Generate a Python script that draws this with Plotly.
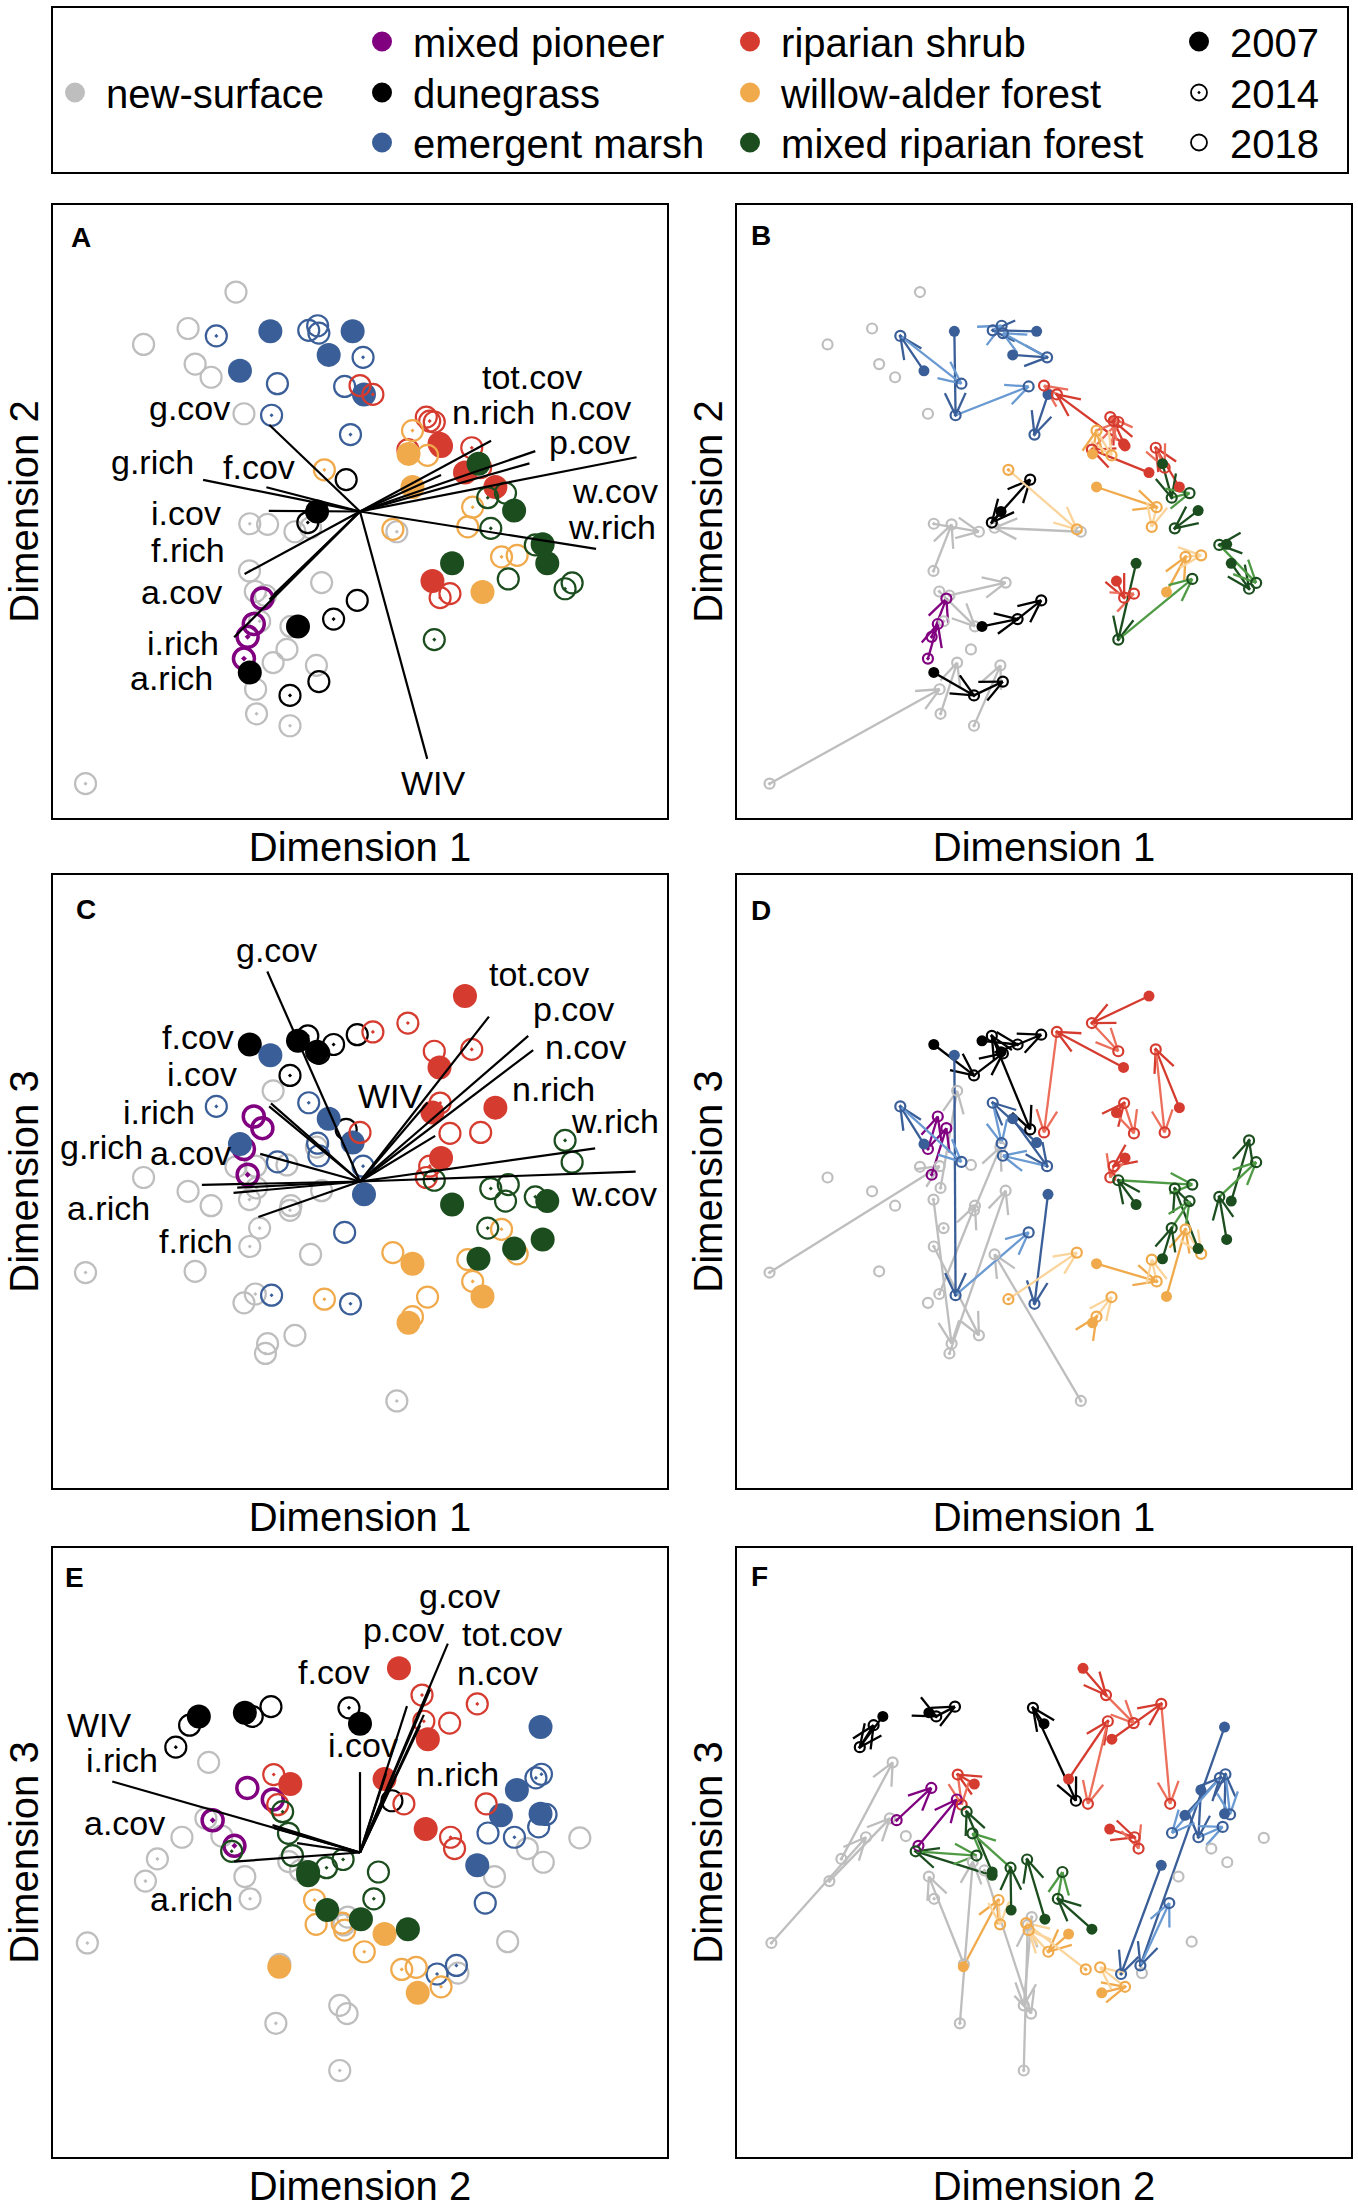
import math
import plotly.graph_objects as go

FIG_W, FIG_H = 1358, 2211
FONT = "Liberation Sans, Arial, Helvetica, sans-serif"

# ---------------- data ----------------
communities = ["ns", "mp", "dg", "em", "rs", "wa", "mr"]
community_names = ["new-surface", "mixed pioneer", "dunegrass", "emergent marsh",
                   "riparian shrub", "willow-alder forest", "mixed riparian forest"]
years = [2007, 2014, 2018]

obs_site = ["N1", "N1", "N2", "N3", "N4", "N5", "N6", "N7", "N8", "N8", "N9", "N9",
            "N10", "N10", "N11", "N11", "N12", "N12", "N13", "N13", "N14", "N14", "N15", "N16",
            "P1", "P1", "P2", "P2",
            "G1", "G1", "G1", "G2", "G2", "G2", "G3", "G3", "G3",
            "M1", "M1", "M1", "M2", "M2", "M2", "M3", "M3", "M3", "M4", "M4", "M4", "M5", "M5",
            "R1", "R1", "R1", "R2", "R2", "R2", "R3", "R3", "R3", "R4", "R4", "R4", "R5", "R5", "R5",
            "W1", "W1", "W1", "W2", "W2", "W2", "W3", "W3", "W3", "W4", "W4",
            "F1", "F1", "F1", "F2", "F2", "F2", "F3", "F3", "F4", "F4", "F4", "F5", "F5"]
obs_year = [2014, 2018, 2018, 2018, 2018, 2018, 2018, 2018, 2014, 2018, 2014, 2018,
            2014, 2018, 2014, 2018, 2014, 2018, 2014, 2018, 2014, 2018, 2018, 2014,
            2014, 2018, 2014, 2018,
            2007, 2014, 2018, 2007, 2014, 2018, 2007, 2014, 2018,
            2007, 2014, 2018, 2007, 2014, 2018, 2007, 2014, 2018, 2007, 2014, 2018, 2007, 2014,
            2007, 2014, 2018, 2007, 2014, 2018, 2007, 2014, 2018, 2007, 2014, 2018, 2007, 2014, 2018,
            2007, 2014, 2018, 2007, 2014, 2018, 2007, 2014, 2018, 2014, 2018,
            2007, 2014, 2018, 2007, 2014, 2018, 2007, 2014, 2007, 2014, 2018, 2007, 2014]
obs_comm = ["ns"] * 24 + ["mp"] * 4 + ["dg"] * 9 + ["em"] * 14 + ["rs"] * 15 + ["wa"] * 11 + ["mr"] * 13
dim1 = [-0.894, -0.340, -0.705, -0.560, -0.537, -0.485, -0.404, -0.378, -0.359, -0.212, -0.360, -0.301,
        0.120, -0.161, -0.308, -0.125, -0.341, -0.225, -0.337, -0.283, -0.228, -0.142, -0.238, -0.327,
        -0.378, -0.346, -0.366, -0.318,
        -0.140, -0.170, -0.045, -0.202, -0.086, -0.009, -0.359, -0.228, -0.134,
        -0.391, -0.468, -0.269, -0.292, -0.288, -0.050, -0.102, 0.010, -0.134, -0.024, -0.167, -0.138, 0.013, -0.031,
        0.342, 0.156, 0.242, 0.259, 0.042, 0.000, 0.441, 0.364, 0.393, 0.236, 0.261, 0.293, 0.264, 0.227, 0.216,
        0.171, 0.367, 0.351, 0.399, 0.461, 0.512, 0.158, 0.171, 0.220, -0.116, 0.107,
        0.300, 0.242, 0.483, 0.386, 0.416, 0.474, 0.502, 0.426, 0.595, 0.571, 0.691, 0.610, 0.668]
dim2 = [-0.888, -0.580, 0.545, 0.597, 0.481, 0.438, 0.716, 0.319, -0.040, -0.066, -0.194, -0.042,
        -0.066, -0.053, -0.274, -0.232, -0.261, -0.375, -0.660, -0.493, -0.699, -0.502, -0.450, -0.358,
        -0.480, -0.367, -0.409, -0.284,
        0.000, -0.036, 0.104, -0.375, -0.351, -0.290, -0.525, -0.600, -0.555,
        0.459, 0.573, 0.417, 0.588, 0.314, 0.408, 0.511, 0.503, 0.582, 0.588, 0.591, 0.606, 0.382, 0.251,
        0.127, 0.202, 0.292, 0.221, 0.382, 0.411, 0.080, 0.208, 0.143, -0.227, -0.281, -0.268, 0.214, 0.295, 0.308,
        0.080, 0.014, -0.050, -0.263, -0.148, -0.143, 0.188, 0.264, 0.183, 0.136, -0.058,
        -0.169, -0.418, -0.220, 0.156, 0.045, 0.060, 0.003, -0.055, -0.107, -0.109, -0.233, -0.169, -0.252]
dim3 = [-0.297, 0.050, 0.013, -0.032, -0.293, -0.079, 0.048, -0.396, -0.212, -0.502, -0.059, -0.529,
        -0.716, -0.238, -0.561, -0.030, -0.367, -0.079, -0.021, 0.296, -0.094, 0.112, 0.054, -0.152,
        0.106, 0.212, 0.022, 0.174,
        0.423, 0.475, 0.170, 0.459, 0.447, 0.479, 0.447, 0.346, 0.418,
        0.122, 0.245, 0.064, 0.412, -0.371, -0.166, 0.205, 0.050, 0.084, 0.127, 0.257, 0.125, -0.042, -0.399,
        0.605, 0.517, 0.425, 0.372, 0.488, 0.160, 0.241, 0.431, 0.160, 0.225, 0.256, 0.157, 0.077, 0.050, 0.013,
        -0.268, -0.326, -0.255, -0.375, -0.156, -0.236, -0.461, -0.441, -0.377, -0.384, -0.232,
        -0.075, 0.004, -0.010, -0.252, -0.152, -0.064, -0.219, -0.023, -0.189, -0.050, 0.063, -0.064, 0.134]

# fitted environmental vectors for each pair of axes
vec12_name = ["tot.cov", "n.rich", "n.cov", "p.cov", "w.cov", "w.rich", "WIV", "g.cov",
              "g.rich", "f.cov", "i.cov", "f.rich", "a.cov", "i.rich", "a.rich"]
vec12_u = [0.427, 0.264, 0.571, 0.552, 0.901, 0.769, 0.219, -0.295, -0.511, -0.305, -0.297, -0.376, -0.280, -0.410, -0.295]
vec12_v = [0.231, 0.119, 0.197, 0.157, 0.177, -0.122, -0.807, 0.282, 0.103, 0.079, 0.002, -0.204, -0.270, -0.410, -0.287]

vec13_name = ["tot.cov", "p.cov", "n.cov", "n.rich", "WIV", "w.rich", "w.cov", "g.cov",
              "f.cov", "i.cov", "i.rich", "g.rich", "a.cov", "a.rich", "f.rich"]
vec13_u = [0.420, 0.548, 0.564, 0.245, 0.220, 0.766, 0.898, -0.302, -0.290, -0.296, -0.325, -0.515, -0.412, -0.400, -0.331]
vec13_v = [0.538, 0.475, 0.429, 0.149, 0.258, 0.108, 0.032, 0.685, 0.255, 0.245, 0.090, -0.011, -0.037, -0.020, -0.116]

vec23_name = ["WIV", "i.cov", "g.cov", "p.cov", "tot.cov", "n.cov", "f.cov", "n.rich",
              "a.cov", "i.rich", "a.rich", "f.rich"]
vec23_u = [-0.807, 0.000, 0.286, 0.153, 0.228, 0.208, 0.085, 0.196, -0.280, -0.285, -0.410, -0.205]
vec23_v = [0.233, 0.264, 0.686, 0.481, 0.535, 0.452, 0.260, 0.418, 0.080, 0.090, -0.030, 0.031]

# ---------------- styling / layout ----------------
comm_color = {"ns": "#BEBEBE", "mp": "#800080", "dg": "#000000", "em": "#3A5E98",
              "rs": "#D63B2F", "wa": "#F0AA4C", "mr": "#1B4D1E"}
comm_light = {"ns": "#BEBEBE", "mp": "#800080", "dg": "#000000", "em": "#6A9AD2",
              "rs": "#EC6F5C", "wa": "#FAD49A", "mr": "#4F9A45"}
year_symbol = {2007: "circle", 2014: "circle-open-dot", 2018: "circle-open"}

# label anchor positions (axis units) for the vector names in each biplot
label_pos = {
    "A": {"tot.cov": (0.559, 0.438), "n.rich": (0.436, 0.324), "n.cov": (0.752, 0.337),
          "p.cov": (0.746, 0.228), "w.cov": (0.829, 0.067), "w.rich": (0.822, -0.049),
          "WIV": (0.239, -0.885), "g.cov": (-0.555, 0.337), "g.rich": (-0.677, 0.163),
          "f.cov": (-0.330, 0.144), "i.cov": (-0.568, -0.004), "f.rich": (-0.561, -0.126),
          "a.cov": (-0.580, -0.261), "i.rich": (-0.578, -0.429), "a.rich": (-0.613, -0.544)},
    "C": {"g.cov": (-0.272, 0.755), "tot.cov": (0.582, 0.676), "p.cov": (0.694, 0.562),
          "n.cov": (0.735, 0.438), "n.rich": (0.629, 0.301), "WIV": (0.098, 0.279),
          "w.rich": (0.829, 0.199), "w.cov": (0.826, -0.040), "f.cov": (-0.529, 0.472),
          "i.cov": (-0.516, 0.350), "i.rich": (-0.654, 0.228), "g.rich": (-0.842, 0.112),
          "a.cov": (-0.553, 0.093), "a.rich": (-0.819, -0.088), "f.rich": (-0.535, -0.193)},
    "E": {"g.cov": (0.324, 0.844), "p.cov": (0.142, 0.731), "tot.cov": (0.496, 0.716),
          "f.cov": (-0.084, 0.593), "n.cov": (0.449, 0.591), "WIV": (-0.847, 0.420),
          "i.rich": (-0.776, 0.303), "i.cov": (0.009, 0.353), "n.rich": (0.318, 0.259),
          "a.cov": (-0.766, 0.098), "a.rich": (-0.548, -0.153)},
}

col_px = [(53, 667), (737, 1351)]
row_px = [(205, 818), (875, 1488), (1548, 2157)]
letter_off = {"A": (28, 32), "B": (24, 30), "C": (33, 34), "D": (24, 35), "E": (21, 29), "F": (22, 28)}

dims = [dim1, dim2, dim3]
vectors = {"A": (vec12_name, vec12_u, vec12_v), "C": (vec13_name, vec13_u, vec13_v),
           "E": (vec23_name, vec23_u, vec23_v)}
panels = [
    ("A", 1, 0, 1, "biplot", 0, 0, "Dimension 1", "Dimension 2"),
    ("B", 2, 0, 1, "traj", 0, 1, "Dimension 1", "Dimension 2"),
    ("C", 3, 0, 2, "biplot", 1, 0, "Dimension 1", "Dimension 3"),
    ("D", 4, 0, 2, "traj", 1, 1, "Dimension 1", "Dimension 3"),
    ("E", 5, 1, 2, "biplot", 2, 0, "Dimension 2", "Dimension 3"),
    ("F", 6, 1, 2, "traj", 2, 1, "Dimension 2", "Dimension 3"),
]

fig = go.Figure()
annotations = []
HEAD = 0.08
ANG = math.radians(25)


def head_lines(x0, y0, x1, y1):
    dx, dy = x1 - x0, y1 - y0
    L = math.hypot(dx, dy)
    if L < 1e-9:
        return [], []
    cx, cy = -dx / L, -dy / L
    xs, ys = [], []
    for a in (ANG, -ANG):
        bx = cx * math.cos(a) - cy * math.sin(a)
        by = cx * math.sin(a) + cy * math.cos(a)
        xs += [x1 + HEAD * bx, x1, None]
        ys += [y1 + HEAD * by, y1, None]
    return xs, ys


# site trajectories
site_order = []
traj = {}
for i, s in enumerate(obs_site):
    if s not in traj:
        traj[s] = []
        site_order.append(s)
    traj[s].append(i)

for letter, ax, dx_i, dy_i, kind, r, c, xt, yt in panels:
    xa = "x" if ax == 1 else f"x{ax}"
    ya = "y" if ax == 1 else f"y{ax}"
    X, Y = dims[dx_i], dims[dy_i]
    if kind == "traj":
        segs = {}
        for s in site_order:
            idx = traj[s]
            for a, b in zip(idx[:-1], idx[1:]):
                comm = obs_comm[b]
                col = comm_color[comm] if obs_year[a] == 2007 else comm_light[comm]
                sx, sy = segs.setdefault(col, ([], []))
                sx += [X[a], X[b], None]
                sy += [Y[a], Y[b], None]
                hx, hy = head_lines(X[a], Y[a], X[b], Y[b])
                sx += hx
                sy += hy
        for col, (sx, sy) in segs.items():
            fig.add_trace(go.Scatter(x=sx, y=sy, mode="lines", xaxis=xa, yaxis=ya,
                                     line=dict(color=col, width=2.3), showlegend=False,
                                     hoverinfo="skip"))
    for comm in communities:
        for yr in years:
            sel = [i for i in range(len(obs_site)) if obs_comm[i] == comm and obs_year[i] == yr]
            if not sel:
                continue
            if kind == "biplot":
                size = 24 if yr == 2007 else 21
                lw = 0 if yr == 2007 else (3.5 if comm == "mp" else 2.2)
            else:
                size = 11 if yr == 2007 else 10
                lw = 0 if yr == 2007 else 2.2
            fig.add_trace(go.Scatter(
                x=[X[i] for i in sel], y=[Y[i] for i in sel], mode="markers",
                xaxis=xa, yaxis=ya, showlegend=False,
                marker=dict(symbol=year_symbol[yr], size=size, color=comm_color[comm],
                            line=dict(width=lw, color=comm_color[comm])),
                text=[obs_site[i] for i in sel]))
    if kind == "biplot":
        names, U, V = vectors[letter]
        lx, ly = [], []
        for n, u, v in zip(names, U, V):
            lx += [0, u, None]
            ly += [0, v, None]
        fig.add_trace(go.Scatter(x=lx, y=ly, mode="lines", xaxis=xa, yaxis=ya,
                                 line=dict(color="black", width=2.2), showlegend=False,
                                 hoverinfo="skip"))
        for n in names:
            if n in label_pos[letter]:
                px, py = label_pos[letter][n]
                annotations.append(dict(x=px, y=py, xref=xa, yref=ya, text=n, showarrow=False,
                                        xanchor="center", yanchor="middle",
                                        font=dict(size=34, color="black", family=FONT)))
    # panel letter
    ox, oy = letter_off[letter]
    w = col_px[c][1] - col_px[c][0]
    h = row_px[r][1] - row_px[r][0]
    annotations.append(dict(x=ox / w, y=1 - oy / h, xref=f"{xa} domain", yref=f"{ya} domain",
                            text=f"<b>{letter}</b>", showarrow=False, xanchor="center",
                            yanchor="middle", font=dict(size=28, color="black", family=FONT)))

    axis_common = dict(range=[-1, 1], showgrid=False, zeroline=False, showticklabels=False,
                       ticks="", showline=True, mirror=True, linecolor="black", linewidth=2,
                       fixedrange=True)
    xdom = [col_px[c][0] / FIG_W, col_px[c][1] / FIG_W]
    ydom = [1 - row_px[r][1] / FIG_H, 1 - row_px[r][0] / FIG_H]
    fig.update_layout(**{
        ("xaxis" if ax == 1 else f"xaxis{ax}"): dict(
            domain=xdom, anchor=ya, automargin=False,
            title=dict(text=xt, font=dict(size=40, family=FONT, color="black"), standoff=14),
            **axis_common),
        ("yaxis" if ax == 1 else f"yaxis{ax}"): dict(
            domain=ydom, anchor=xa, automargin=False,
            title=dict(text=yt, font=dict(size=40, family=FONT, color="black"), standoff=0),
            **axis_common),
    })

# ---------------- legend (one legend per entry, laid out as in the original) ----------------
legend_entries = [  # (label, community or None, year or None, left px, top px)
    ("new-surface", "ns", None, 55, 60),
    ("mixed pioneer", "mp", None, 362, 9),
    ("dunegrass", "dg", None, 362, 60),
    ("emergent marsh", "em", None, 362, 110),
    ("riparian shrub", "rs", None, 730, 9),
    ("willow-alder forest", "wa", None, 730, 60),
    ("mixed riparian forest", "mr", None, 730, 110),
    ("2007", None, 2007, 1179, 9),
    ("2014", None, 2014, 1179, 60),
    ("2018", None, 2018, 1179, 110),
]
leg_common = dict(xanchor="left", yanchor="top", bgcolor="rgba(0,0,0,0)", borderwidth=0,
                  font=dict(size=40, family=FONT, color="black"), itemsizing="trace",
                  orientation="v", itemclick=False, itemdoubleclick=False)
legend_layout = {}
for k, (label, comm, yr, lpx, tpx) in enumerate(legend_entries):
    lg = "legend" if k == 0 else f"legend{k + 1}"
    if comm is not None:
        mk = dict(symbol="circle", size=16, color=comm_color[comm],
                  line=dict(width=4, color=comm_color[comm]))
    else:
        mk = dict(symbol=year_symbol[yr], size=16 if yr == 2007 else 17, color="black",
                  line=dict(width=4 if yr == 2007 else 1.8, color="black"))
    fig.add_trace(go.Scatter(x=[None], y=[None], mode="markers", name="\u00a0" + label,
                             marker=mk, legend=lg, showlegend=True))
    legend_layout[lg] = dict(x=lpx / FIG_W, y=1 - tpx / FIG_H, **leg_common)
fig.update_layout(**legend_layout)

fig.add_shape(type="rect", xref="paper", yref="paper", x0=52 / FIG_W, x1=1348 / FIG_W,
              y0=1 - 173 / FIG_H, y1=1 - 7 / FIG_H, line=dict(color="black", width=2))

fig.update_layout(width=FIG_W, height=FIG_H, margin=dict(l=0, r=0, t=0, b=0),
                  paper_bgcolor="white", plot_bgcolor="white", annotations=annotations,
                  font=dict(family=FONT, color="black"), showlegend=True)

fig.write_html("out.html", config={"displayModeBar": False},
               post_script="document.body.style.margin='0px';")
